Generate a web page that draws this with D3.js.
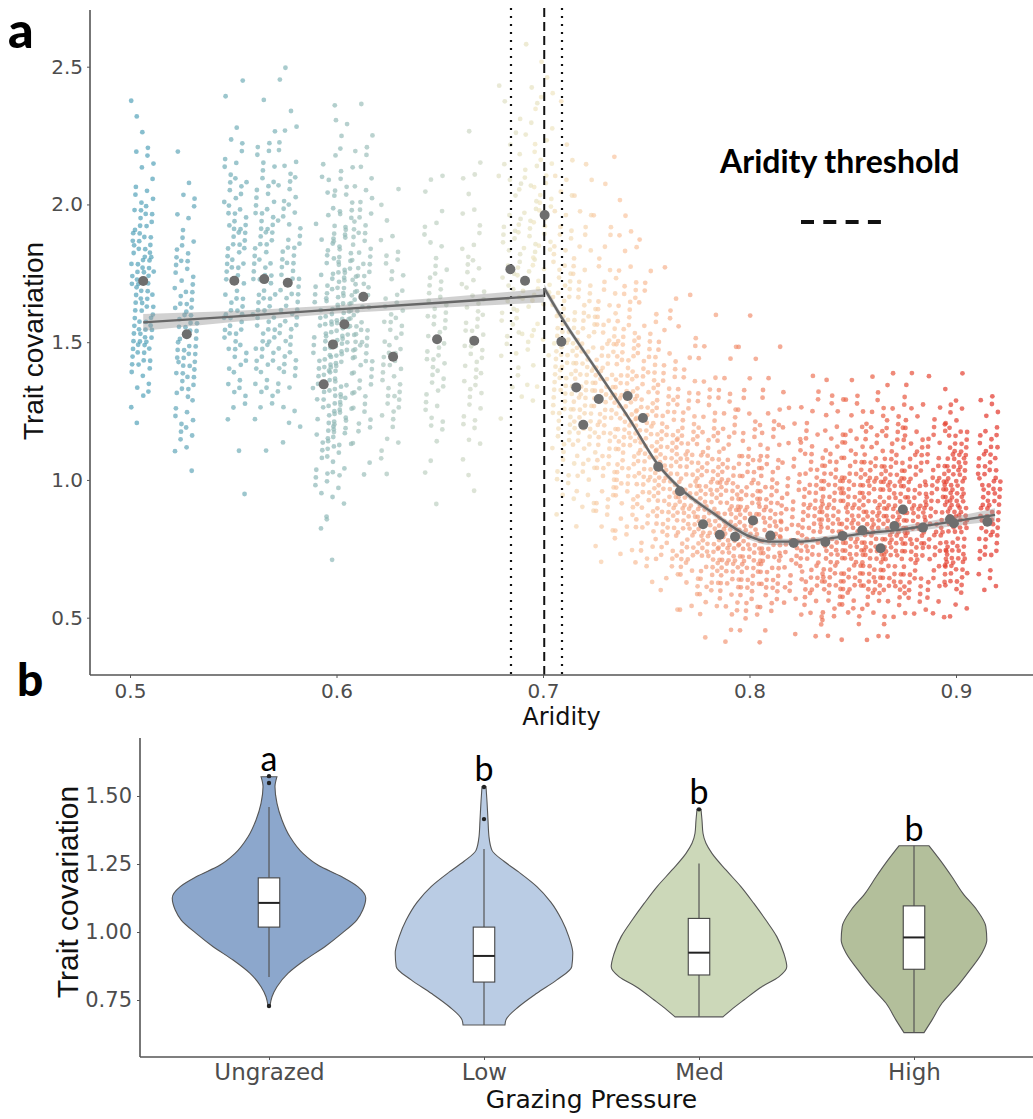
<!DOCTYPE html>
<html lang="en">
<head>
<meta charset="UTF-8">
<title>Trait covariation vs aridity and grazing pressure</title>
<script src="https://d3js.org/d3.v7.min.js"></script>
<style>
  body { margin: 0; background: #fff; }
  svg { display: block; }
</style>
</head>
<body>
<svg id="chart" width="1033" height="1119"></svg>
<script>
// ---------- panel a: trait covariation along aridity ----------
const aridityTicks = [0.5, 0.6, 0.7, 0.8, 0.9];
const covTicks = [0.5, 1.0, 1.5, 2.0, 2.5];

// lower edge of each 0.1-wide trait-covariation bin
const covBins = [0.4, 0.5, 0.6, 0.7, 0.8, 0.9, 1.0, 1.1, 1.2, 1.3, 1.4, 1.5,
                 1.6, 1.7, 1.8, 1.9, 2.0, 2.1, 2.2, 2.3, 2.4, 2.5];

// sites (aridity) and how many observations fall in each bin
const siteAridity = [0.506, 0.527, 0.551, 0.565, 0.577, 0.594, 0.599, 0.604, 0.612,
                     0.627, 0.648, 0.666, 0.684, 0.692, 0.700,
                     0.71, 0.72, 0.73, 0.74, 0.75, 0.76, 0.77, 0.78, 0.79, 0.80,
                     0.81, 0.82, 0.83, 0.84, 0.85, 0.86, 0.87, 0.88, 0.89, 0.90,
                     0.916];
const siteCounts = [
  [0,0,0,0,0,0,0,0,2,6,12,16,14,16,14,10,6,4,2,2],
  [0,0,0,0,0,0,1,6,6,10,14,12,10,8,6,4,3,1],
  [0,0,0,0,0,1,0,1,3,6,8,10,10,10,10,10,8,5,3,1,1],
  [0,0,0,0,0,0,0,1,3,6,9,10,10,10,9,9,7,5,3,1],
  [0,0,0,0,0,0,0,2,3,5,8,8,9,9,8,7,6,4,3,1,2],
  [0,0,0,1,2,4,5,7,8,8,7,6,5,4,3,2,1,1],
  [0,0,0,0,1,2,4,6,7,8,9,9,8,6,5,3,2,1,1,1],
  [0,0,0,0,0,0,1,3,5,6,8,9,9,8,6,5,5,3,2,1],
  [0,0,0,0,0,0,2,3,5,7,9,10,10,9,8,6,5,3,2,1],
  [0,0,0,0,0,0,2,4,6,8,9,8,7,5,4,2,1],
  [0,0,0,0,0,1,2,3,5,7,8,8,7,6,4,3,2,1],
  [0,0,0,0,0,1,2,3,5,7,8,8,7,6,4,3,2,2,1],
  [0,0,0,0,0,0,0,0,1,2,3,4,5,5,5,4,3,2,2,1,1],
  [0,0,0,0,0,0,0,0,1,2,3,4,5,5,5,5,4,3,2,2,1,1],
  [0,0,0,0,0,0,0,0,0,1,2,3,4,4,5,5,5,4,3,2,2,1],
  [0,0,0,0,1,3,5,8,10,12,12,11,9,7,5,4,3,2,1,1],
  [0,0,0,0,2,4,7,10,12,12,11,9,7,5,4,3,2,1],
  [0,0,0,2,4,6,9,11,12,12,10,8,6,4,3,2,1],
  [0,0,0,3,5,8,11,13,13,12,10,8,6,4,3,2,1,1],
  [0,0,2,5,8,11,13,13,12,10,8,5,3,2,1],
  [0,1,4,8,12,14,14,12,10,7,5,3,2,1],
  [0,3,7,12,15,15,13,10,7,5,3,2,1],
  [1,5,10,15,17,15,12,9,6,4,2,1],
  [2,7,12,17,17,15,11,8,5,3,2],
  [2,7,13,17,16,13,10,7,4,2,2,1],
  [2,6,12,15,15,12,9,6,4,2,1],
  [1,4,7,9,9,7,5,3,2,1],
  [2,6,11,14,14,12,9,6,4,2],
  [2,7,13,16,16,14,10,7,4,2],
  [2,7,13,17,17,14,10,7,4,2],
  [3,8,14,18,18,15,11,8,5,2],
  [1,6,13,18,19,17,13,9,5,3],
  [0,5,11,15,16,14,11,7,4,2],
  [0,4,9,12,13,12,9,6,3,1],
  [0,4,12,18,22,22,18,12,6,2],
  [0,0,5,11,15,16,13,9,4,1]
];

// binned means (dark dots)
const meanAridity = [0.5064, 0.5275, 0.5505, 0.565, 0.5764, 0.5938, 0.5983, 0.6038, 0.613,
                     0.6274, 0.6487, 0.6667, 0.6842, 0.6913, 0.7008, 0.7089, 0.7161, 0.7195,
                     0.727, 0.741, 0.7484, 0.7558, 0.7663, 0.7775, 0.7856, 0.793, 0.8017,
                     0.8101, 0.8214, 0.8367, 0.8451, 0.8546, 0.8635, 0.8702, 0.8743, 0.884,
                     0.8971, 0.899, 0.9152];
const meanCov = [1.722, 1.529, 1.723, 1.729, 1.716, 1.347, 1.492, 1.565, 1.665,
                 1.447, 1.511, 1.505, 1.765, 1.723, 1.962, 1.502, 1.336, 1.200,
                 1.294, 1.305, 1.225, 1.048, 0.959, 0.839, 0.801, 0.794, 0.853,
                 0.798, 0.771, 0.775, 0.797, 0.817, 0.752, 0.833, 0.893, 0.827,
                 0.857, 0.843, 0.848];

// segmented fit, with its standard-error band
const fitLeftX = [0.5064, 0.55, 0.60, 0.65, 0.7006];
const fitLeftY = [1.572, 1.593, 1.619, 1.643, 1.669];
const fitLeftSE = [0.030, 0.020, 0.015, 0.018, 0.025];
const fitRightX = [0.7006, 0.7098, 0.726, 0.7421, 0.7558, 0.7663, 0.7825, 0.7986, 0.8099,
                   0.8229, 0.839, 0.8551, 0.8713, 0.8874, 0.9035, 0.9189];
const fitRightY = [1.696, 1.580, 1.399, 1.218, 1.054, 0.970, 0.879, 0.800, 0.776,
                   0.776, 0.788, 0.806, 0.818, 0.836, 0.855, 0.873];
const fitRightSE = [0.015, 0.012, 0.010, 0.010, 0.010, 0.010, 0.010, 0.012, 0.012,
                    0.010, 0.010, 0.010, 0.012, 0.015, 0.018, 0.024];

const thresholdAridity = 0.7006;
const thresholdCI = [0.6845, 0.7092];

// ---------- panel b: grazing pressure ----------
const groups = ["Ungrazed", "Low", "Med", "High"];
const groupLetters = ["a", "b", "b", "b"];
const bTicks = [0.75, 1.00, 1.25, 1.50];
const violinCov = [
  [0.729,0.762,0.799,0.848,0.897,0.946,0.995,1.044,1.081,1.125,1.167,1.203,1.246,1.289,1.350,1.412,1.473,1.534,1.571],
  [0.658,0.677,0.726,0.775,0.824,0.873,0.922,0.983,1.044,1.110,1.167,1.220,1.260,1.300,1.350,1.412,1.480,1.535],
  [0.688,0.713,0.750,0.799,0.835,0.872,0.922,0.983,1.044,1.105,1.167,1.228,1.289,1.326,1.363,1.412,1.451],
  [0.630,0.676,0.738,0.799,0.860,0.922,0.971,1.020,1.081,1.142,1.203,1.265,1.317]
];
const violinDensity = [
  [1,3,8,19,36,56,73,88,94,97,89,73,49,34,21,13,8,6,8],
  [21,22,35,53,73,88,89,85,78,67,53,35,20,8,5,4,3,2],
  [24,32,45,63,80,88,85,78,67,55,42,27,13,7,4,3,2],
  [10,18,28,43,56,68,73,72,63,49,38,26,15]
];
const whiskerLow = [0.835, 0.658, 0.688, 0.630];
const q1 = [1.018, 0.816, 0.842, 0.863];
const median = [1.107, 0.912, 0.924, 0.980];
const q3 = [1.199, 1.018, 1.050, 1.096];
const whiskerHigh = [1.460, 1.305, 1.252, 1.317];
const outliers = [[1.573, 1.548, 0.728], [1.533, 1.415], [1.451], []];

const violinFill = ["#8ca7cc", "#bacce4", "#ccd8b9", "#b3bf9b"];

// ---------- drawing ----------
const svg = d3.select("#chart");
const W = 1033;

// panel a scales
const xA = d3.scaleLinear().domain([0.5, 0.9]).range([130, 956]);
const yA = d3.scaleLinear().domain([0.5, 2.5]).range([617.7, 66.7]);
const aLeft = 90, aBottom = 675, aTop = 10;

const colour = d3.scaleLinear()
  .domain([0.5, 0.6, 0.67, 0.70, 0.74, 0.80, 0.86, 0.92])
  .range(["#4a9db7", "#8fb8b6", "#cfd8c4", "#efe4bf", "#f9c39c", "#f08a6a", "#e95a3e", "#e02a20"])
  .interpolate(d3.interpolateRgb);

// spread each bin's observations over the bin (jitter-like, deterministic)
const jitter = 0.0055;
const pts = [];
let n = 0;
siteAridity.forEach((a, i) => {
  siteCounts[i].forEach((c, b) => {
    for (let k = 0; k < c; k++) {
      n++;
      const u = (0.5 + n * 0.7548776662) % 1;
      const v = (0.5 + n * 0.5698402910) % 1;
      pts.push({ a: a + (u - 0.5) * 2 * jitter, cov: covBins[b] + v * 0.1, site: a });
    }
  });
});

const gA = svg.append("g");

gA.append("g").selectAll("circle").data(pts).join("circle")
  .attr("cx", d => xA(d.a))
  .attr("cy", d => yA(d.cov))
  .attr("r", 2.4)
  .attr("fill", d => colour(d.site))
  .attr("fill-opacity", 0.68);

// threshold lines
gA.append("line")
  .attr("x1", xA(thresholdAridity)).attr("x2", xA(thresholdAridity))
  .attr("y1", aTop - 2).attr("y2", aBottom)
  .attr("stroke", "#111").attr("stroke-width", 2).attr("stroke-dasharray", "9,5");
gA.selectAll(".ci").data(thresholdCI).join("line")
  .attr("class", "ci")
  .attr("x1", d => xA(d)).attr("x2", d => xA(d))
  .attr("y1", aTop - 2).attr("y2", aBottom)
  .attr("stroke", "#111").attr("stroke-width", 2.2).attr("stroke-dasharray", "2,6");

// fit ribbons and lines
function drawFit(xs, ys, se, curve) {
  const rows = xs.map((x, i) => ({ x, y: ys[i], se: se[i] }));
  gA.append("path").datum(rows)
    .attr("d", d3.area().curve(curve).x(d => xA(d.x)).y0(d => yA(d.y - d.se)).y1(d => yA(d.y + d.se)))
    .attr("fill", "#9a9a9a").attr("fill-opacity", 0.45);
  gA.append("path").datum(rows)
    .attr("d", d3.line().curve(curve).x(d => xA(d.x)).y(d => yA(d.y)))
    .attr("fill", "none").attr("stroke", "#676767").attr("stroke-width", 2.4);
}
drawFit(fitLeftX, fitLeftY, fitLeftSE, d3.curveLinear);
drawFit(fitRightX, fitRightY, fitRightSE, d3.curveMonotoneX);

// means
gA.append("g").selectAll("circle").data(meanAridity).join("circle")
  .attr("cx", d => xA(d))
  .attr("cy", (d, i) => yA(meanCov[i]))
  .attr("r", 5)
  .attr("fill", "#6e6e6e");

// axes a
const axA = gA.append("g").attr("font-family", "DejaVu Sans");
const xAxisA = axA.append("g").attr("transform", `translate(0,${aBottom})`)
  .call(d3.axisBottom(xA).tickValues(aridityTicks).tickFormat(d3.format(".1f")).tickSize(3).tickPadding(6));
const yAxisA = axA.append("g").attr("transform", `translate(${aLeft},0)`)
  .call(d3.axisLeft(yA).tickValues(covTicks).tickFormat(d3.format(".1f")).tickSize(3).tickPadding(4));
[xAxisA, yAxisA].forEach(g => {
  g.select(".domain").remove();
  g.selectAll(".tick line").attr("stroke", "#555");
  g.selectAll(".tick text").attr("fill", "#4d4d4d").attr("font-size", 20).attr("font-family", "DejaVu Sans");
});
axA.append("line").attr("x1", aLeft).attr("x2", W).attr("y1", aBottom).attr("y2", aBottom)
  .attr("stroke", "#555").attr("stroke-width", 1.6);
axA.append("line").attr("x1", aLeft).attr("x2", aLeft).attr("y1", aTop).attr("y2", aBottom)
  .attr("stroke", "#555").attr("stroke-width", 1.6);

gA.append("text").attr("x", (aLeft + W) / 2).attr("y", 725)
  .attr("text-anchor", "middle").attr("font-family", "DejaVu Sans").attr("font-size", 24)
  .attr("fill", "#111").text("Aridity");
gA.append("text").attr("transform", `translate(43,341) rotate(-90)`)
  .attr("text-anchor", "middle").attr("font-family", "Liberation Sans").attr("font-size", 28)
  .attr("fill", "#111").text("Trait covariation");

// legend
gA.append("text").attr("x", 720).attr("y", 173)
  .attr("font-family", "Lato").attr("font-weight", 700).attr("font-size", 32)
  .attr("fill", "#000").text("Aridity threshold");
gA.append("line").attr("x1", 801).attr("x2", 881).attr("y1", 222).attr("y2", 222)
  .attr("stroke", "#111").attr("stroke-width", 4).attr("stroke-dasharray", "13,9.3");

// panel b scales
const xB = d3.scalePoint().domain(groups).range([140, 1043]).padding(0.6);
const yB = d3.scaleLinear().domain([0.75, 1.5]).range([1000, 796]);
const halfW = d3.scaleLinear().domain([0, 97]).range([0, 0.45 * xB.step()]);
const bLeft = 140, bBottom = 1057, bTop = 738;

const gB = svg.append("g");
groups.forEach((g, i) => {
  const cx = xB(g);
  const prof = violinCov[i].map((v, k) => ({ v, w: violinDensity[i][k] }));
  gB.append("path").datum(prof)
    .attr("d", d3.area().curve(d3.curveMonotoneY)
      .y(d => yB(d.v)).x0(d => cx - halfW(d.w)).x1(d => cx + halfW(d.w)))
    .attr("fill", violinFill[i]).attr("stroke", "#555").attr("stroke-width", 1.1);

  const bw = 0.1 * xB.step();
  gB.append("line").attr("x1", cx).attr("x2", cx)
    .attr("y1", yB(whiskerLow[i])).attr("y2", yB(q1[i]))
    .attr("stroke", "#555").attr("stroke-width", 1.2);
  gB.append("line").attr("x1", cx).attr("x2", cx)
    .attr("y1", yB(q3[i])).attr("y2", yB(whiskerHigh[i]))
    .attr("stroke", "#555").attr("stroke-width", 1.2);
  gB.append("rect").attr("x", cx - bw / 2).attr("width", bw)
    .attr("y", yB(q3[i])).attr("height", yB(q1[i]) - yB(q3[i]))
    .attr("fill", "#fff").attr("stroke", "#444").attr("stroke-width", 1.1);
  gB.append("line").attr("x1", cx - bw / 2).attr("x2", cx + bw / 2)
    .attr("y1", yB(median[i])).attr("y2", yB(median[i]))
    .attr("stroke", "#222").attr("stroke-width", 2);
  gB.selectAll(null).data(outliers[i]).join("circle")
    .attr("cx", cx).attr("cy", d => yB(d)).attr("r", 2.2).attr("fill", "#222");

  const top = d3.max([whiskerHigh[i], d3.max(outliers[i]) || 0, d3.max(violinCov[i])]);
  gB.append("text").attr("x", cx).attr("y", yB(top) - 5)
    .attr("text-anchor", "middle").attr("font-family", "Lato").attr("font-size", 34)
    .attr("fill", "#000").text(groupLetters[i]);
});

const xAxisB = gB.append("g").attr("transform", `translate(0,${bBottom})`)
  .call(d3.axisBottom(xB).tickSize(3).tickPadding(4));
const yAxisB = gB.append("g").attr("transform", `translate(${bLeft},0)`)
  .call(d3.axisLeft(yB).tickValues(bTicks).tickFormat(d3.format(".2f")).tickSize(3).tickPadding(5));
[xAxisB, yAxisB].forEach(g => {
  g.select(".domain").remove();
  g.selectAll(".tick line").attr("stroke", "#555");
  g.selectAll(".tick text").attr("fill", "#4d4d4d").attr("font-family", "DejaVu Sans");
});
xAxisB.selectAll(".tick text").attr("font-size", 23);
yAxisB.selectAll(".tick text").attr("font-size", 21);
gB.append("line").attr("x1", bLeft).attr("x2", W).attr("y1", bBottom).attr("y2", bBottom)
  .attr("stroke", "#555").attr("stroke-width", 1.6);
gB.append("line").attr("x1", bLeft).attr("x2", bLeft).attr("y1", bTop).attr("y2", bBottom)
  .attr("stroke", "#555").attr("stroke-width", 1.6);

gB.append("text").attr("x", (bLeft + 1043) / 2).attr("y", 1108)
  .attr("text-anchor", "middle").attr("font-family", "DejaVu Sans").attr("font-size", 25)
  .attr("fill", "#111").text("Grazing Pressure");
gB.append("text").attr("transform", `translate(78,892) rotate(-90)`)
  .attr("text-anchor", "middle").attr("font-family", "Liberation Sans").attr("font-size", 30)
  .attr("fill", "#111").text("Trait covariation");

// panel letters
svg.append("text").attr("x", 8).attr("y", 48)
  .attr("font-family", "Lato").attr("font-weight", 900).attr("font-size", 50).text("a");
svg.append("text").attr("x", 17).attr("y", 696)
  .attr("font-family", "Lato").attr("font-weight", 900).attr("font-size", 46).text("b");
</script>
</body>
</html>
